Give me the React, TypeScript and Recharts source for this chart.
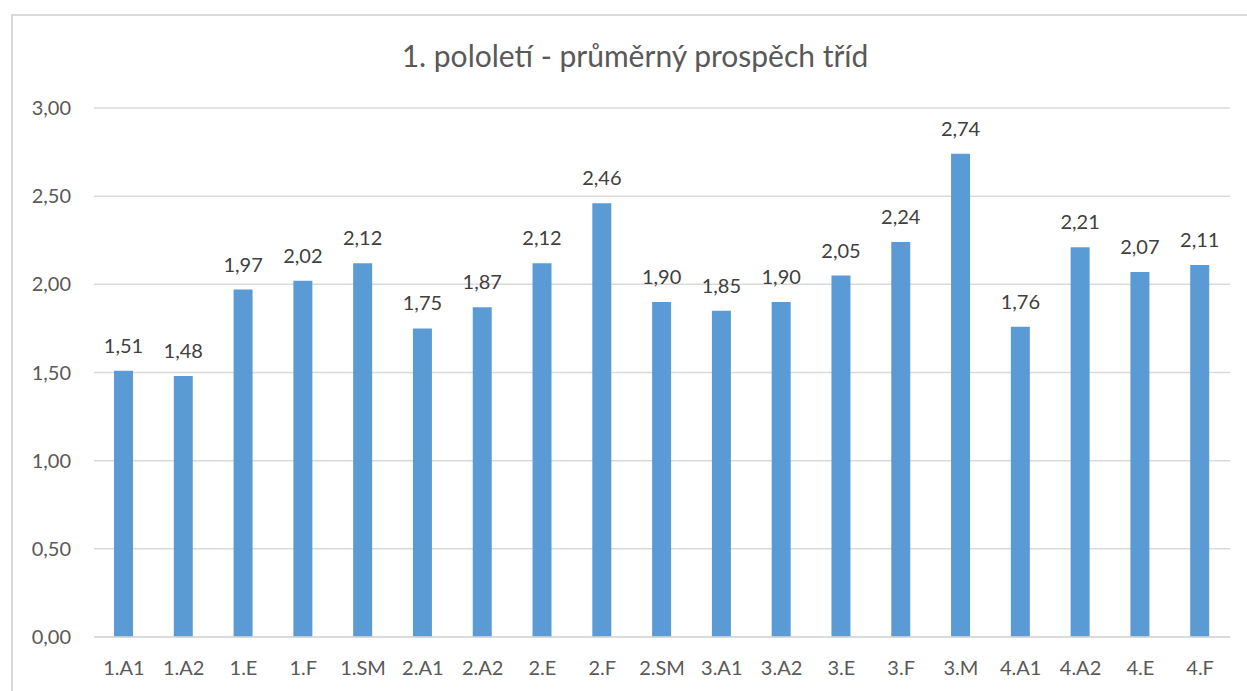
import React from "react";
import { BarChart, Bar, XAxis, YAxis, CartesianGrid, LabelList } from "recharts";

const classes = [
  "1.A1", "1.A2", "1.E", "1.F", "1.SM",
  "2.A1", "2.A2", "2.E", "2.F", "2.SM",
  "3.A1", "3.A2", "3.E", "3.F", "3.M",
  "4.A1", "4.A2", "4.E", "4.F",
];
const averages = [
  1.51, 1.48, 1.97, 2.02, 2.12,
  1.75, 1.87, 2.12, 2.46, 1.9,
  1.85, 1.9, 2.05, 2.24, 2.74,
  1.76, 2.21, 2.07, 2.11,
];
const yTicks = [0, 0.5, 1, 1.5, 2, 2.5, 3];

const chartData = classes.map((name, i) => ({ name, value: averages[i] }));

const fmt = (v: number) => v.toFixed(2).replace(".", ",");

const FONT = "Lato, 'Open Sans', sans-serif";

const App = () => {
  return (
    <div
      style={{
        position: "absolute",
        left: 0,
        top: 0,
        width: 1247,
        height: 691,
        overflow: "hidden",
        background: "#fff",
        fontFamily: FONT,
      }}
    >
      {/* chart frame, cut off at the right and bottom */}
      <div
        style={{
          position: "absolute",
          left: 11,
          top: 14,
          width: 1260,
          height: 700,
          border: "2px solid #d9d9d9",
        }}
      />
      <div
        style={{
          position: "absolute",
          left: 0,
          top: 37,
          width: 1270,
          textAlign: "center",
          fontSize: 30,
          lineHeight: "36px",
          color: "#595959",
        }}
      >
        1. pololetí - průměrný prospěch tříd
      </div>
      <div style={{ position: "absolute", left: 0, top: 0 }}>
        <BarChart
          width={1247}
          height={691}
          data={chartData}
          margin={{ top: 108, right: 17, left: 0, bottom: 24 }}
        >
          <CartesianGrid vertical={false} stroke="#d9d9d9" strokeWidth={1.5} />
          <XAxis
            dataKey="name"
            height={30}
            axisLine={{ stroke: "#d9d9d9", strokeWidth: 1.5 }}
            tickLine={false}
            tickSize={0}
            tickMargin={24}
            interval={0}
            tick={{ fill: "#595959", fontSize: 20, fontFamily: FONT }}
          />
          <YAxis
            width={94}
            domain={[0, 3]}
            ticks={yTicks}
            axisLine={false}
            tickLine={false}
            tickSize={0}
            tickMargin={23}
            tickFormatter={fmt}
            tick={{ fill: "#595959", fontSize: 20, fontFamily: FONT }}
          />
          <Bar dataKey="value" fill="#5b9bd5" barSize={19} isAnimationActive={false}>
            <LabelList
              dataKey="value"
              position="top"
              offset={18}
              formatter={(v: number) => fmt(v)}
              style={{ fill: "#404040", fontSize: 20, fontFamily: FONT }}
            />
          </Bar>
        </BarChart>
      </div>
    </div>
  );
};

export default App;
